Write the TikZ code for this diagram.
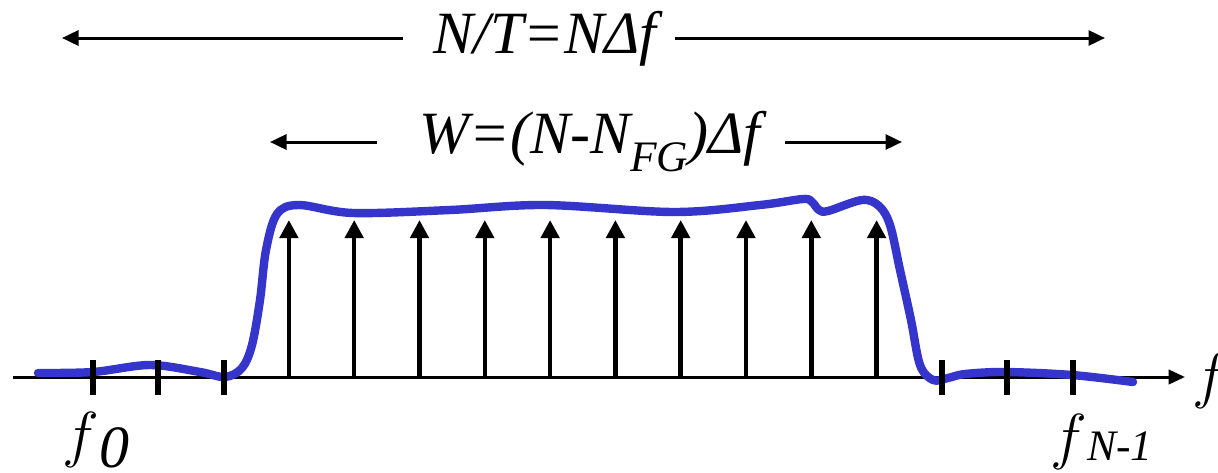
\documentclass[tikz,border=0pt]{standalone}
\usepackage{fontspec}
\setmainfont{Liberation Serif}
\usepackage{xcolor}
\usetikzlibrary{arrows.meta, positioning}
\definecolor{specblue}{RGB}{53,53,204}
\newcommand{\bigit}{\fontsize{20pt}{24pt}\selectfont\itshape}
\newcommand{\subit}{\fontsize{14.5pt}{17pt}\selectfont\itshape}

\begin{document}
\begin{tikzpicture}[
      x=0.3333pt, y=-0.3333pt,
      spanarrow/.style={-{Triangle[length=5.5pt, width=5pt]}, line width=1pt},
      carrier/.style={-{Triangle[length=6pt, width=6pt]}, line width=1.5pt},
      axisline/.style={-{Triangle[length=5.5pt, width=4.8pt]}, line width=1pt},
      tickmark/.style={line width=2pt},
      spectrum/.style={draw=specblue, line width=2.8pt, line cap=round, line join=round},
      lab/.style={font=\bigit, inner sep=0pt},
      freqlab/.style={font=\fontsize{20pt}{24pt}\selectfont, inner sep=0pt, anchor=base west}
    ]
      \useasboundingbox (0,0) rectangle (1218,472);

      % Span labels
      \node[lab, anchor=base] (total) at (545,53) {N/T=NΔf};
      \node[lab, anchor=base] (useful) at (590,153)
        {W=(N-N\raisebox{-6pt}{\subit FG})Δf};
      \coordinate (totalL) at (62,38);
      \coordinate (totalR) at (1105,38);
      \coordinate (usefulL) at (270,142);
      \coordinate (usefulR) at (902,142);

      \draw[spanarrow] ([xshift=-10pt]total.west |- totalL) -- (totalL);
      \draw[spanarrow] ([xshift=6pt]total.east |- totalR) -- (totalR);
      \draw[spanarrow] ([xshift=-14pt]useful.west |- usefulL) -- (usefulL);
      \draw[spanarrow] ([xshift=8pt]useful.east |- usefulR) -- (usefulR);

      % Frequency axis
      \coordinate (axisL) at (13,377);
      \coordinate (axisR) at (1185,377);
      \draw[axisline] (axisL) -- (axisR);
      \node[freqlab] (faxis) at (1192,396) {$f$};

      % Spectrum
      \draw[spectrum] plot[smooth, tension=0.55] coordinates {
        (38,373) (93,372) (150,365) (200,372) (225,377) (242,368) (252,345)
        (260,300) (266,250) (277,214) (299,205) (353,213) (450,210) (545,205)
        (674,212) (760,205) (803,199) (812,202) (819,210) (828,211) (862,200)
        (879,206) (890,225) (900,270) (911,320) (920,365) (933,380) (948,378)
        (965,374) (1005,372) (1072,375) (1133,382)};

      % Guard ticks
      \foreach \k in {0,1,2,13,14,15}
        \draw[tickmark] (93+65.3*\k,360) -- (93+65.3*\k,395);

      % Subcarriers
      \foreach \k in {3,...,12}
        \draw[carrier] (93+65.3*\k,377) -- (93+65.3*\k,220);

      % Edge labels
      \node[freqlab] (f0) at (62,455) {$f$\raisebox{-4pt}{\bigit 0}};
      \node[freqlab] (fN) at (1050,457) {$f$\raisebox{-1pt}{\subit N-1}};
    \end{tikzpicture}
\end{document}
